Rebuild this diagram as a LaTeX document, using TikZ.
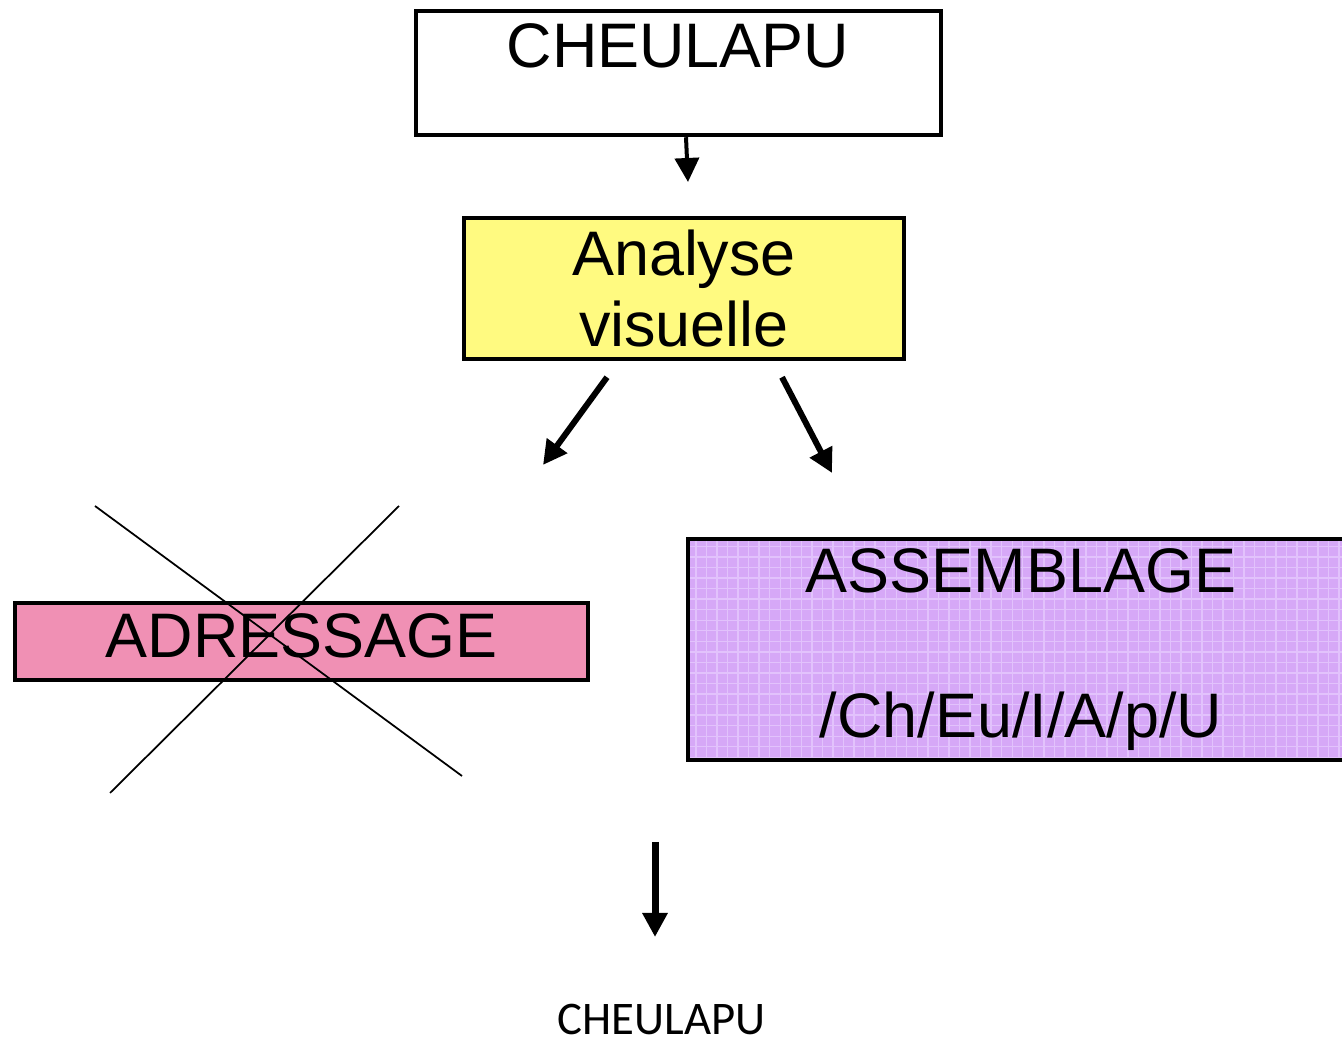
\documentclass[tikz,border=0pt]{standalone}
\usepackage{fontspec}
\setmainfont{Liberation Sans}
\newfontfamily\calibrifont{Carlito}
\usetikzlibrary{arrows.meta,positioning,calc,patterns}
\definecolor{visFill}{HTML}{FFFA80}
\definecolor{adrFill}{HTML}{F090B4}
\definecolor{asmFill}{HTML}{D6A8F7}
\definecolor{asmGrid}{HTML}{E2C2FC}

\begin{document}
\begin{tikzpicture}[
          box/.style={rectangle, draw=black, line width=0.045cm, inner sep=0pt, align=center, font=\fontsize{17.9pt}{20pt}\selectfont},
          label/.style={inner sep=0pt, font=\fontsize{17.9pt}{20pt}\selectfont},
          flow/.style={-{Triangle[length=0.24cm, width=0.24cm]}, draw=black},
          cross/.style={draw=black, line width=0.5pt}
        ]
          \useasboundingbox (0,0) rectangle (13.42,10.42);
          \clip (0,0) rectangle (13.42,10.42);
          % boxes
          \node[box, minimum width=5.25cm, minimum height=1.24cm] (src) at (6.785,9.69) {};
          \node[label, anchor=base] (srclbl) at (6.78,9.74) {CHEULAPU};
          \node[box, fill=visFill, minimum width=4.40cm, minimum height=1.41cm] (vis) at (6.84,7.535) {Analyse\\visuelle};
          \node[box, fill=adrFill, minimum width=5.73cm, minimum height=0.77cm, text depth=0.12cm] (adr) at (3.015,4.005) {ADRESSAGE};
          \node[box, preaction={fill=asmFill}, pattern=grid, pattern color=asmGrid, minimum width=6.66cm, minimum height=2.21cm] (asm) at (10.21,3.925) {ASSEMBLAGE\\[0.74cm]/Ch/Eu/I/A/p/U};
          \node[inner sep=0pt, anchor=base, font=\calibrifont\fontsize{13.3pt}{16pt}\selectfont] (out) at (6.615,0.07) {CHEULAPU};
          % arrow ends
          \coordinate (visin) at (6.88,8.60);
          \coordinate (adrin) at (5.43,5.77);
          \coordinate (asmin) at (8.32,5.69);
          \coordinate (outtop) at (6.55,2.00);
          \coordinate (outin) at (6.55,1.05);
          % arrows
          \draw[flow, line width=0.04cm] ([xshift=0.075cm]src.south) -- (visin);
          \draw[flow, line width=0.06cm] ([xshift=-0.77cm, yshift=-0.16cm]vis.south) -- (adrin);
          \draw[flow, line width=0.06cm] ([xshift=0.98cm, yshift=-0.16cm]vis.south) -- (asmin);
          \draw[flow, line width=0.07cm] (outtop) -- (outin);
          % crossed out
          \draw[cross] (0.95,5.36) -- (4.62,2.66);
          \draw[cross] (3.99,5.36) -- (1.10,2.49);
        \end{tikzpicture}
\end{document}
